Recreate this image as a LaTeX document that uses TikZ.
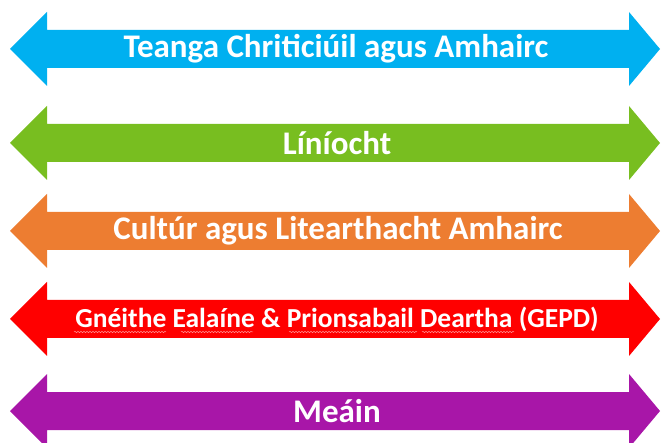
\documentclass[tikz,border=0pt]{standalone}
\usepackage{fontspec}
\setmainfont{Carlito}
\usepackage{tikz}
\usetikzlibrary{positioning, decorations.pathmorphing}
\tikzstyle{banner} = [x = 1pt, y = -1pt, every node/.style={transform shape}]
\definecolor{skyColor}{RGB}{0,176,240}
\definecolor{leafColor}{RGB}{120,190,32}
\definecolor{rustColor}{RGB}{237,125,49}
\definecolor{signalColor}{RGB}{255,0,0}
\definecolor{plumColor}{RGB}{168,22,168}
\definecolor{spellColor}{RGB}{255,140,140}
\tikzstyle{arrowStyle} = [draw=none]
\tikzstyle{arrowText} = [text=white, font=\bfseries\fontsize{33}{38}\selectfont, inner sep=0pt]
\tikzstyle{smallText} = [text=white, font=\bfseries\fontsize{27.5}{32}\selectfont, inner sep=0pt]
\tikzstyle{spellLine} = [draw=spellColor, line width=.5, decorate, decoration={snake, amplitude=.7, segment length=3}]
\newcommand{\tipL}{10}
\newcommand{\baseL}{47}
\newcommand{\baseR}{629}
\newcommand{\tipR}{660}
\newcommand{\headH}{37}
\newcommand{\shaftH}{19}
\newcommand{\doubleArrow}[2]{\fill [arrowStyle, fill=#2] (\tipL, #1) -- (\baseL, #1 - \headH) -- (\baseL, #1 - \shaftH) -- (\baseR, #1 - \shaftH) -- (\baseR, #1 - \headH) -- (\tipR, #1) -- (\baseR, #1 + \headH) -- (\baseR, #1 + \shaftH) -- (\baseL, #1 + \shaftH) -- (\baseL, #1 + \headH) -- cycle;}
\newcommand{\spellMark}[3]{\draw [spellLine] (#1, #3) -- (#2, #3);}

\begin{document}
\begin{tikzpicture}[banner]
        \useasboundingbox (0,0) rectangle (661,443);
        \doubleArrow{49}{skyColor}
        \doubleArrow{143}{leafColor}
        \doubleArrow{231}{rustColor}
        \doubleArrow{319}{signalColor}
        \doubleArrow{411}{plumColor}

        \node [arrowText] (teanga) at (336, 49) {Teanga Chriticiúil agus Amhairc};
        \node [arrowText] (liniocht) at (337, 143) {Líníocht};
        \node [arrowText] (cultur) at (338, 231) {Cultúr agus Litearthacht Amhairc};
        \node [smallText] (gepd) at (337, 319) {Gnéithe Ealaíne \& Prionsabail Deartha (GEPD)};
        \node [arrowText] (meain) at (337, 411) {Meáin};

        % spell-check marks under the GEPD words
        \foreach \from/\to in {74/166, 181/253, 289/417, 422/514} {
          \spellMark{\from}{\to}{332}
        }
      \end{tikzpicture}
\end{document}
